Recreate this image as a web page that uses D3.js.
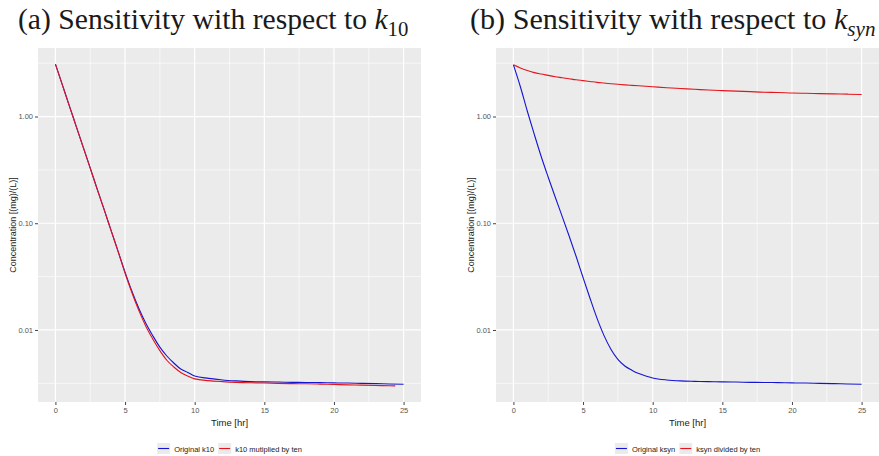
<!DOCTYPE html>
<html><head><meta charset="utf-8">
<script src="https://cdn.jsdelivr.net/npm/d3@7"></script>
<style>body{margin:0;background:#fff}svg{display:block}</style>
</head><body><svg id="c" width="879" height="456"></svg>
<script>
// ---- data ----
const timeA = [0,0.5,1,1.5,2,2.5,3,3.5,4,4.5,5,5.5,6,6.5,7,7.5,8,8.5,9,9.5,10,11,12,13,14,15,16,17,18,19,20,21,22,23,24,25];
const originalK10 = [3.1,1.98,1.26,0.805,0.514,0.328,0.209,0.134,0.0853,0.0545,0.0348,0.0229,0.0158,0.0115,0.0088,0.0069,0.0057,0.0049,0.0043,0.0040,0.0037,0.00352,0.0034,0.00333,0.00328,0.00326,0.00325,0.00323,0.00322,0.00321,0.00319,0.00318,0.00316,0.00314,0.00312,0.0031];
const timeA2 = [0,0.5,1,1.5,2,2.5,3,3.5,4,4.5,5,5.5,6,6.5,7,7.5,8,8.5,9,9.5,10,11,12,13,14,15,16,17,18,19,20,21,22,23,24,24.4];
const k10TimesTen = [3.1,1.98,1.26,0.805,0.514,0.328,0.209,0.134,0.0853,0.0545,0.034,0.0222,0.0151,0.0108,0.0082,0.0064,0.0052,0.0045,0.0040,0.0037,0.00348,0.00335,0.00328,0.00323,0.0032,0.00318,0.00316,0.00314,0.00313,0.00311,0.00308,0.00306,0.00304,0.00302,0.0030,0.00299];
const timeB = [0,0.5,1,1.5,2,2.5,3,3.5,4,4.5,5,5.5,6,6.5,7,7.5,8,8.5,9,9.5,10,11,12,13,14,15,16,17,18,19,20,21,22,23,24,25];
const originalKsyn = [3.05,1.9,1.12,0.68,0.42,0.27,0.176,0.116,0.076,0.049,0.031,0.0198,0.0129,0.0089,0.0066,0.0053,0.0046,0.0042,0.0039,0.0037,0.00355,0.0034,0.00333,0.0033,0.00328,0.00326,0.00325,0.00323,0.00322,0.00321,0.00319,0.00318,0.00316,0.00314,0.00312,0.0031];
const ksynDividedByTen = [3.05,2.85,2.7,2.58,2.5,2.43,2.36,2.31,2.26,2.21,2.17,2.13,2.09,2.06,2.03,2.005,1.98,1.96,1.94,1.92,1.9,1.86,1.83,1.8,1.77,1.75,1.73,1.71,1.69,1.68,1.66,1.65,1.64,1.63,1.62,1.61];
const xTicks = [0,5,10,15,20,25];
const xMinor = [2.5,7.5,12.5,17.5,22.5];
const yTicks = [1,0.1,0.01];
const yTickLabels = ["1.00","0.10","0.01"];
const yMinor = [Math.pow(10,0.5),Math.pow(10,-0.5),Math.pow(10,-1.5),Math.pow(10,-2.5)];
const legendA = ["Original k10","k10 mutiplied by ten"];
const legendB = ["Original ksyn","ksyn divided by ten"];
const colors = ["#1414d2","#e5141c"];

const svg = d3.select("#c");
const panelTop = 48, panelBottom = 402, panelW = 383;

const allVals = [].concat(originalK10,k10TimesTen,originalKsyn,ksynDividedByTen);
const lmin = Math.log10(d3.min(allVals)), lmax = Math.log10(d3.max(allVals));
const pad = (lmax-lmin)*0.05;
const yDomain = [Math.pow(10,lmin-pad), Math.pow(10,lmax+pad)];

function panel(left, series, labels, titleParts, titleX, titleW){
  const x = d3.scaleLinear().domain([-1.25,26.25]).range([left,left+panelW]);
  const y = d3.scaleLog().domain(yDomain).range([panelBottom,panelTop]);
  const g = svg.append("g");
  g.append("rect").attr("x",left).attr("y",panelTop).attr("width",panelW).attr("height",panelBottom-panelTop).attr("fill","#ebebeb");
  g.selectAll(".xm").data(xMinor).join("line").attr("x1",d=>x(d)).attr("x2",d=>x(d)).attr("y1",panelTop).attr("y2",panelBottom).attr("stroke","#fff").attr("stroke-width",0.6);
  g.selectAll(".ym").data(yMinor).join("line").attr("y1",d=>y(d)).attr("y2",d=>y(d)).attr("x1",left).attr("x2",left+panelW).attr("stroke","#fff").attr("stroke-width",0.6);
  g.selectAll(".xg").data(xTicks).join("line").attr("x1",d=>x(d)).attr("x2",d=>x(d)).attr("y1",panelTop).attr("y2",panelBottom).attr("stroke","#fff").attr("stroke-width",1.2);
  g.selectAll(".yg").data(yTicks).join("line").attr("y1",d=>y(d)).attr("y2",d=>y(d)).attr("x1",left).attr("x2",left+panelW).attr("stroke","#fff").attr("stroke-width",1.2);
  const line = d3.line().x(d=>x(d[0])).y(d=>y(d[1])).curve(d3.curveMonotoneX);
  series.forEach((s,i)=>{
    g.append("path").datum(s.t.map((t,j)=>[t,s.v[j]])).attr("d",line).attr("fill","none").attr("stroke",colors[i]).attr("stroke-width",1.1);
  });
  const xa = g.append("g").attr("transform",`translate(0,${panelBottom})`).call(d3.axisBottom(x).tickValues(xTicks).tickSize(3).tickPadding(3));
  const ya = g.append("g").attr("transform",`translate(${left},0)`).call(d3.axisLeft(y).tickValues(yTicks).tickFormat((d,i)=>yTickLabels[i]).tickSize(3).tickPadding(2));
  [xa,ya].forEach(a=>{a.select(".domain").remove();a.selectAll("line").attr("stroke","#444");a.selectAll("text").attr("fill","#555").style("font-family","Liberation Sans, Arial, sans-serif").style("font-size","7.5px");});
  g.append("text").attr("x",left+panelW/2).attr("y",426).attr("text-anchor","middle").style("font-family","Liberation Sans, Arial, sans-serif").style("font-size","9.5px").attr("fill","#222").text("Time [hr]");
  g.append("text").attr("text-anchor","middle").style("font-family","Liberation Sans, Arial, sans-serif").style("font-size","9px").attr("fill","#222")
    .attr("transform",`translate(${left-22},${(panelTop+panelBottom)/2}) rotate(-90)`).text("Concentration [(mg)/(L)]");
  const lg = g.append("g");
  let items = [];
  labels.forEach((lab,i)=>{
    const it = lg.append("g");
    it.append("rect").attr("x",0).attr("y",-5).attr("width",13).attr("height",11).attr("fill","#ebebeb");
    it.append("line").attr("x1",1).attr("x2",12).attr("y1",0.5).attr("y2",0.5).attr("stroke",colors[i]).attr("stroke-width",1.1);
    it.append("text").attr("x",17).attr("y",3.5).style("font-family","Liberation Sans, Arial, sans-serif").style("font-size","7.5px").attr("fill","#222").text(lab);
    items.push(it);
  });
  let cx = 0;
  items.forEach(it=>{ it.attr("transform",`translate(${cx},0)`); cx += it.node().getBBox().width + 4; });
  const tw = cx - 4;
  lg.attr("transform",`translate(${left+panelW/2 - tw/2},448)`);
  // title, sized to span the reference width
  const t = svg.append("text").attr("x",titleX).attr("y",29).style("font-family","Liberation Serif, Times New Roman, serif").style("font-size","22px").attr("fill","#1a1a1a");
  t.append("tspan").text(titleParts[0]);
  t.append("tspan").style("font-style","italic").text("k");
  t.append("tspan").attr("dy",5).style("font-size","15px").style("font-style",titleParts[2]?"italic":"normal").text(titleParts[1]);
  const w = t.node().getComputedTextLength();
  const fs = 22*titleW/w;
  t.style("font-size",fs+"px");
  t.select("tspan:nth-child(3)").style("font-size",(fs*0.7)+"px").attr("dy",fs*0.22);
}

panel(38,[{t:timeA,v:originalK10},{t:timeA2,v:k10TimesTen}],legendA,["(a) Sensitivity with respect to ","10",false],18,390);
panel(496,[{t:timeB,v:originalKsyn},{t:timeB,v:ksynDividedByTen}],legendB,["(b) Sensitivity with respect to ","syn",true],470,405);
</script></body></html>
